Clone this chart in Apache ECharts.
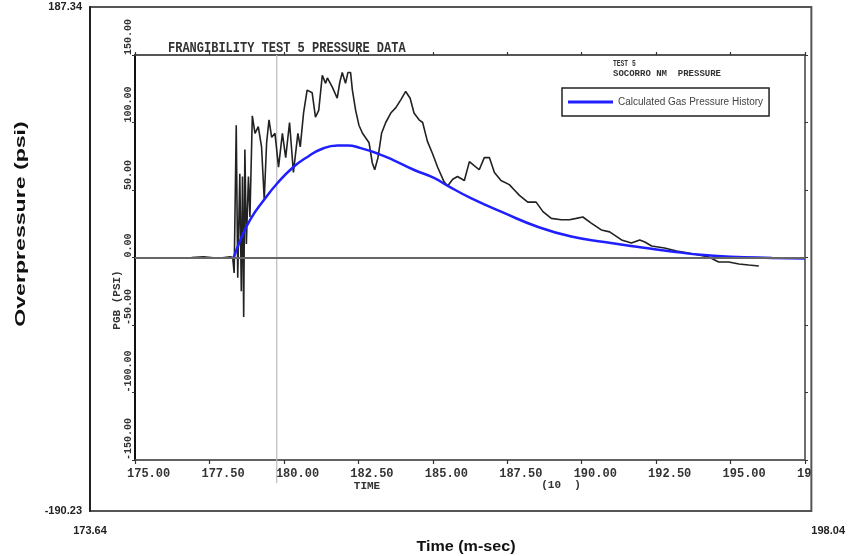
<!DOCTYPE html>
<html><head><meta charset="utf-8">
<script src="https://cdn.jsdelivr.net/npm/echarts@6/dist/echarts.min.js"></script>
<style>html,body{margin:0;padding:0;background:#fff}#c{width:848px;height:556px}</style>
</head><body><div id="c"></div>
<script>
// Outer (re-plot) axis extents
const outerXLabels = [173.64, 198.04];
const outerYLabels = [-190.23, 187.34];
// Inner (scanned) axis ranges and tick step
const innerXRange = [175, 197.5];
const innerXStep = 2.5;
const innerYRange = [-150, 150];
const innerYStep = 50;
// Gray vertical cursor line on the scan
const cursorTime = [179.76, 179.76];
const cursorPressure = [150, -167];

// Measured trace (time in ms, pressure in psi)
const measTime = [176.9, 177.3, 177.8, 178.2, 178.28, 178.33, 178.40, 178.45, 178.52, 178.57,
  178.61, 178.65, 178.69, 178.74, 178.81, 178.86, 178.94, 179.03, 179.14, 179.25,
  179.34, 179.42, 179.50, 179.59, 179.70, 179.82, 179.95, 180.06, 180.19, 180.32,
  180.47, 180.55, 180.66, 180.78, 180.95, 181.06, 181.17, 181.29, 181.40, 181.46,
  181.63, 181.79, 181.88, 181.96, 182.07, 182.15, 182.24, 182.30, 182.41, 182.52,
  182.64, 182.86, 182.97, 183.05, 183.16, 183.28, 183.42, 183.59, 183.76, 183.93,
  184.09, 184.24, 184.37, 184.54, 184.66, 184.82, 184.99, 185.16, 185.38, 185.50,
  185.67, 185.83, 186.06, 186.23, 186.39, 186.56, 186.73, 186.90, 187.07, 187.29,
  187.57, 187.74, 187.91, 188.19, 188.47, 188.70, 188.98, 189.31, 189.59, 189.82,
  190.04, 190.32, 190.66, 190.94, 191.34, 191.67, 191.95, 192.12, 192.35, 192.78,
  193.19, 193.59, 193.93, 194.27, 194.60, 194.94, 195.28, 195.61, 195.95];
const measPressure = [0, 0.5, -0.5, 0.5, 0, -11.5, 98, -15, 62, -25,
  60, -44, 80, 10, 60, 30, 105, 92, 97, 82,
  43, 85, 102, 89, 92, 67, 92, 74, 100, 63,
  92, 82, 107, 124, 122, 104, 109, 135, 129, 133,
  126, 118, 130, 137, 129, 137, 137, 124, 109, 98,
  92, 85, 70, 65, 74, 92, 100, 107, 111, 117,
  123, 118, 107, 102, 100, 86, 77, 67, 56, 53,
  58, 60, 57, 71, 68, 65, 74, 74, 63, 57,
  54, 50, 46, 41, 41, 34, 29, 28, 28, 29,
  30, 25.5, 20.4, 19, 13, 10.7, 13, 11.5, 8.5, 7,
  4.8, 3.3, 1.9, 0.4, -3.3, -3.3, -4.8, -5.6, -6.3];

// Calculated gas pressure history
const calcTime = [178.30, 178.54, 178.87, 179.31, 179.78, 180.32, 180.79, 181.23, 181.80, 182.14,
  182.58, 183.15, 183.69, 184.36, 185.04, 185.51, 186.28, 187.39, 188.54, 189.65,
  190.76, 191.91, 193.02, 194.00, 195.00, 196.39, 197.50];
const calcPressure = [-1, 13, 28, 42, 55, 67, 74.5, 80, 83, 83,
  81, 77, 72, 65, 59, 53, 44, 33, 22.6, 15.5,
  11.5, 7.8, 4.5, 2.0, 0.6, -0.3, -0.8];

const seriesName = 'Calculated Gas Pressure History';
const zip = (a, b) => a.map((v, i) => [v, b[i]]);

const mono = '"Liberation Mono", "DejaVu Sans Mono", monospace';
const sans = '"Liberation Sans", Arial, sans-serif';

const chart = echarts.init(document.getElementById('c'), null, { renderer: 'canvas' });
chart.setOption({
  animation: false,
  backgroundColor: '#fff',
  grid: [
    { left: 90, top: 7, right: 30, bottom: 45, show: true, borderColor: '#555', borderWidth: 2 },
    { left: 135, top: 55, right: 43, bottom: 96, show: true, borderColor: '#666', borderWidth: 1.5 },
    { left: 127, top: 55, right: 51, bottom: 96, show: false }
  ],
  xAxis: [
    { gridIndex: 0, type: 'value', min: outerXLabels[0], max: outerXLabels[1],
      axisLine: { show: false, onZero: false }, axisTick: { show: false }, splitLine: { show: false },
      axisLabel: { customValues: outerXLabels, formatter: v => v.toFixed(2), margin: 14,
        fontFamily: sans, fontWeight: 'bold', fontSize: 11, color: '#222', alignMaxLabel: 'left' } },
    { gridIndex: 1, type: 'value', min: innerXRange[0], max: innerXRange[1], interval: innerXStep,
      axisLine: { show: true, onZero: false, lineStyle: { color: '#555', width: 1.5 } },
      axisTick: { show: true, length: 4, lineStyle: { color: '#333', width: 1.2 } },
      axisLabel: { show: false }, splitLine: { show: false } },
    { gridIndex: 1, type: 'value', position: 'top', min: innerXRange[0], max: innerXRange[1], interval: innerXStep,
      axisLine: { show: true, onZero: false, lineStyle: { color: '#444', width: 1.5 } },
      axisTick: { show: true, length: 3, lineStyle: { color: '#333', width: 1.2 } },
      axisLabel: { show: false }, splitLine: { show: false } },
    { gridIndex: 2, type: 'value', min: innerXRange[0], max: innerXRange[1], interval: innerXStep,
      axisLine: { show: false, onZero: false }, axisTick: { show: false }, splitLine: { show: false },
      axisLabel: { align: 'left', margin: 8, fontFamily: mono, fontWeight: 'bold', fontSize: 12, color: '#333',
        formatter: v => (v === innerXRange[1] ? '19' : v.toFixed(2)) } }
  ],
  yAxis: [
    { gridIndex: 0, type: 'value', min: outerYLabels[0], max: outerYLabels[1],
      axisLine: { show: true, onZero: false, lineStyle: { color: '#222', width: 2 } }, axisTick: { show: false }, splitLine: { show: false },
      axisLabel: { customValues: outerYLabels, formatter: v => v.toFixed(2), margin: 8,
        fontFamily: sans, fontWeight: 'bold', fontSize: 11, color: '#222' } },
    { gridIndex: 1, type: 'value', min: innerYRange[0], max: innerYRange[1], interval: innerYStep,
      axisLine: { show: true, onZero: false, lineStyle: { color: '#111', width: 2 } },
      axisTick: { show: true, length: 3, lineStyle: { color: '#333' } }, splitLine: { show: false },
      axisLabel: { rotate: 90, align: 'left', verticalAlign: 'middle', margin: 7,
        fontFamily: mono, fontWeight: 'bold', fontSize: 10, color: '#333', formatter: v => v.toFixed(2) } },
    { gridIndex: 1, type: 'value', position: 'right', min: innerYRange[0], max: innerYRange[1], interval: innerYStep,
      axisLine: { show: true, onZero: false, lineStyle: { color: '#666', width: 1.5 } },
      axisTick: { show: true, length: 3, lineStyle: { color: '#333' } },
      axisLabel: { show: false }, splitLine: { show: false } },
    { gridIndex: 2, type: 'value', min: innerYRange[0], max: innerYRange[1], show: false }
  ],
  legend: {
    data: [{ name: seriesName, icon: 'rect' }], left: 562, top: 88, padding: [9, 6, 9, 6],
    itemWidth: 45, itemHeight: 3, borderColor: '#222', borderWidth: 1.5, borderRadius: 0,
    backgroundColor: '#fff', selectedMode: false,
    textStyle: { fontFamily: sans, fontSize: 10, color: '#444' }
  },
  graphic: [
    { type: 'text', x: 21, y: 224, rotation: Math.PI / 2, scaleX: 1.65,
      style: { text: 'Overpressure (psi)', font: 'bold 14px ' + sans, fill: '#111', align: 'center', verticalAlign: 'middle' } },
    { type: 'text', x: 466, y: 547, scaleX: 1.15,
      style: { text: 'Time (m-sec)', font: 'bold 14px ' + sans, fill: '#111', align: 'center', verticalAlign: 'middle' } },
    { type: 'text', x: 168, y: 48, scaleY: 1.2,
      style: { text: 'FRANGIBILITY TEST 5 PRESSURE DATA', font: 'bold 12px ' + mono, fill: '#333', align: 'left', verticalAlign: 'middle' } },
    { type: 'text', x: 613, y: 64, scaleX: 0.7,
      style: { text: 'TEST 5', font: 'bold 9px ' + mono, fill: '#333', align: 'left', verticalAlign: 'middle' } },
    { type: 'text', x: 613, y: 74,
      style: { text: 'SOCORRO NM  PRESSURE', font: 'bold 9px ' + mono, fill: '#333', align: 'left', verticalAlign: 'middle' } },
    { type: 'text', x: 117, y: 300, rotation: Math.PI / 2,
      style: { text: 'PGB (PSI)', font: 'bold 11px ' + mono, fill: '#333', align: 'center', verticalAlign: 'middle' } },
    { type: 'text', x: 367, y: 486,
      style: { text: 'TIME', font: 'bold 11px ' + mono, fill: '#333', align: 'center', verticalAlign: 'middle' } },
    { type: 'text', x: 561, y: 485,
      style: { text: '(10  )', font: 'bold 11px ' + mono, fill: '#333', align: 'center', verticalAlign: 'middle' } }
  ],
  series: [
    { name: 'cursor', type: 'line', xAxisIndex: 1, yAxisIndex: 1, clip: false, silent: true,
      symbol: 'none', data: zip(cursorTime, cursorPressure), lineStyle: { color: '#bbb', width: 1.2 }, z: 1 },
    { name: 'Measured', type: 'line', xAxisIndex: 1, yAxisIndex: 1, symbol: 'none',
      data: zip(measTime, measPressure), lineStyle: { color: '#222', width: 1.6 }, z: 3,
      markLine: { silent: true, symbol: ['none', 'none'], label: { show: false },
        lineStyle: { color: '#666', width: 2, type: 'solid' }, data: [{ yAxis: 0 }] } },
    { name: seriesName, type: 'line', xAxisIndex: 1, yAxisIndex: 1, symbol: 'none', smooth: true,
      data: zip(calcTime, calcPressure), color: '#1f1fff', lineStyle: { color: '#1f1fff', width: 2.5 }, z: 4 }
  ]
});
</script>
</body></html>
